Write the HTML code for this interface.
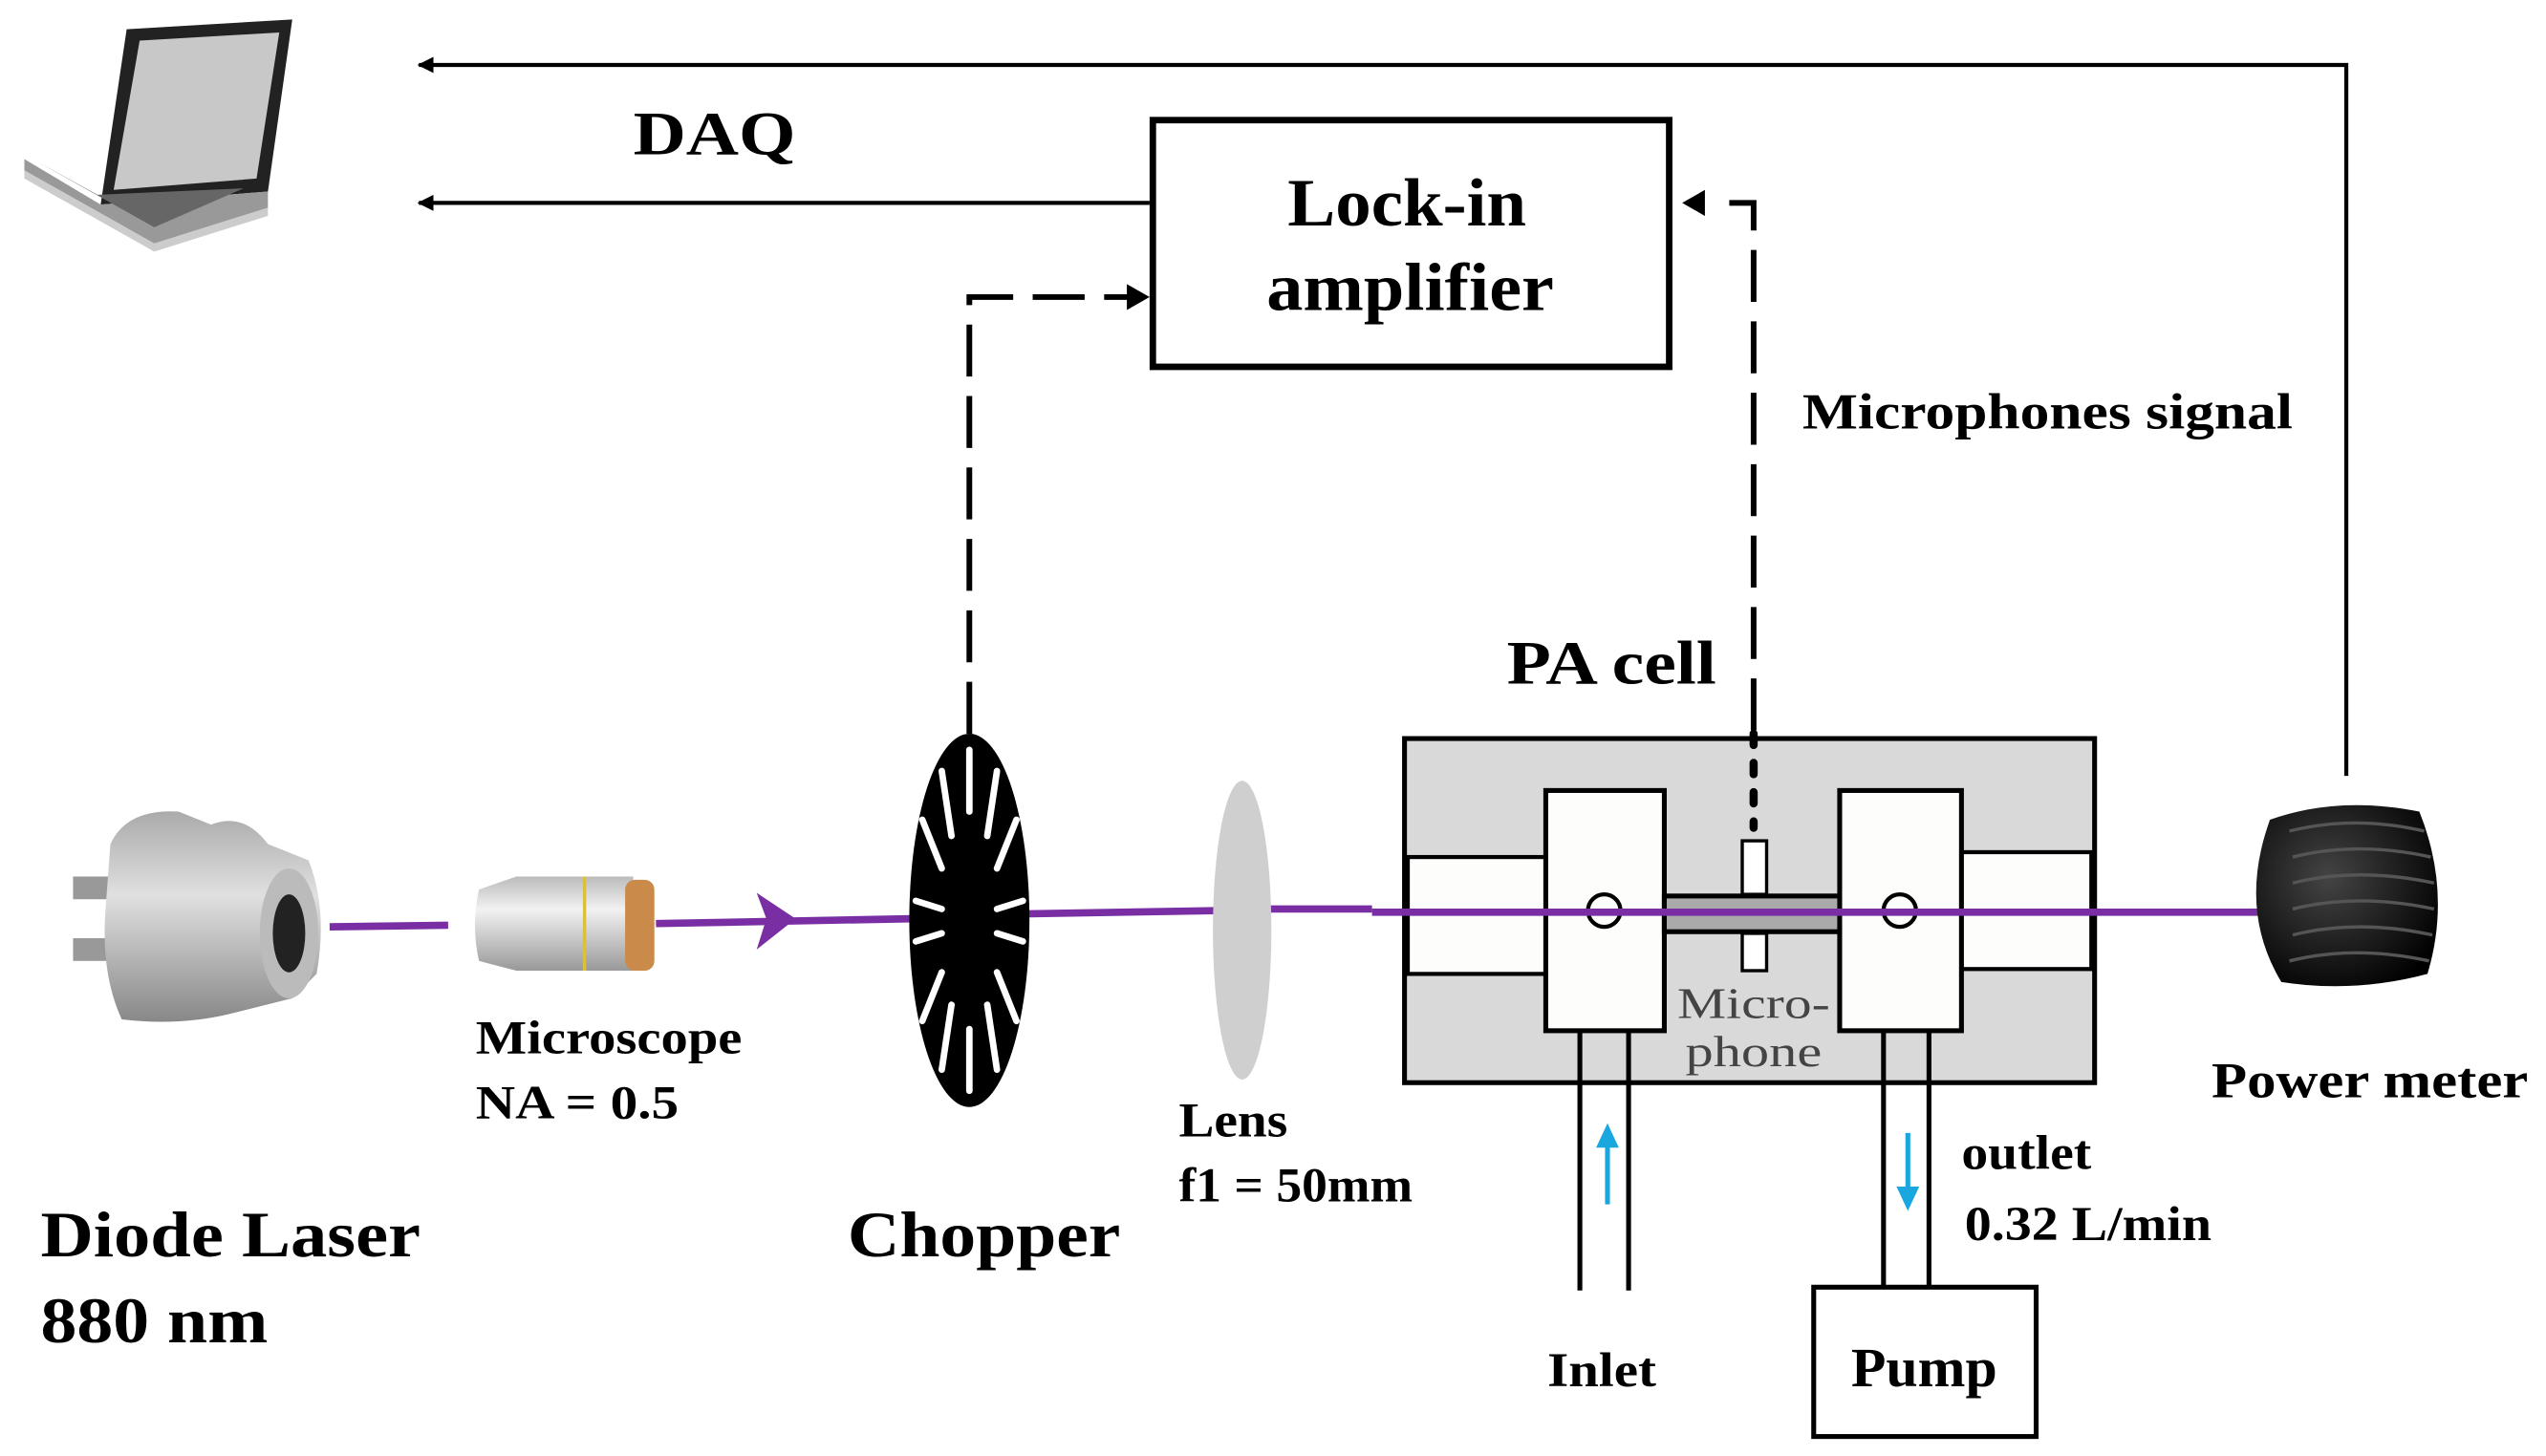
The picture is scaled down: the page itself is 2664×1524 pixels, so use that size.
<!DOCTYPE html>
<html><head><meta charset="utf-8"><style>
html,body{margin:0;padding:0;background:#fff;width:2664px;height:1524px;overflow:hidden}
svg{display:block}
text{font-family:"Liberation Serif",serif;font-weight:bold;fill:#000}
</style></head><body>
<svg width="2664" height="1524" viewBox="0 0 1568 897" preserveAspectRatio="none" xmlns="http://www.w3.org/2000/svg">
<defs>
<marker id="ah" markerWidth="10" markerHeight="10" refX="9" refY="5" orient="auto" markerUnits="userSpaceOnUse"><path d="M0,0 L10,5 L0,10 z" fill="#000"/></marker>
<linearGradient id="metal" x1="0" y1="0" x2="0" y2="1"><stop offset="0" stop-color="#aaa"/><stop offset=".4" stop-color="#e0e0e0"/><stop offset="1" stop-color="#888"/></linearGradient>
<linearGradient id="obj" x1="0" y1="0" x2="0" y2="1"><stop offset="0" stop-color="#bbb"/><stop offset=".35" stop-color="#f2f2f2"/><stop offset="1" stop-color="#999"/></linearGradient>
<radialGradient id="pm" cx=".4" cy=".4" r=".7"><stop offset="0" stop-color="#444"/><stop offset="1" stop-color="#000"/></radialGradient>
</defs>

<!-- laptop -->
<polygon points="78,18 180,12 165,118 62,126" fill="#222"/>
<polygon points="86,25 172,20 158,110 70,117" fill="#c8c8c8"/>
<polygon points="15,98 62,126 165,118 165,128 95,150 15,105" fill="#999"/>
<polygon points="22,99 60,120 150,116 95,140" fill="#666"/>
<polygon points="15,105 95,150 165,128 165,133 95,155 15,110" fill="#ccc"/>

<!-- top feedback lines -->
<polyline points="1445,478 1445,40 258,40" fill="none" stroke="#000" stroke-width="2.5" marker-end="url(#ah)"/>
<line x1="708" y1="125" x2="258" y2="125" stroke="#000" stroke-width="2.5" marker-end="url(#ah)"/>
<text x="390" y="95" font-size="38" textLength="100" lengthAdjust="spacingAndGlyphs">DAQ</text>

<!-- lock-in -->
<rect x="710" y="74" width="318" height="152" fill="#fff" stroke="#000" stroke-width="4"/>
<text x="793" y="139" font-size="42" textLength="147" lengthAdjust="spacingAndGlyphs">Lock-in</text>
<text x="780" y="191" font-size="42" textLength="177" lengthAdjust="spacingAndGlyphs">amplifier</text>

<!-- dashed from chopper -->
<polyline points="597,452 597,183 696,183" fill="none" stroke="#000" stroke-width="3.5" stroke-dasharray="32,12"/>
<path d="M694,175 L708,183 L694,191 z" fill="#000"/>
<!-- dashed from microphone -->
<polyline points="1080,450 1080,125 1058,125" fill="none" stroke="#000" stroke-width="3.5" stroke-dasharray="32,12"/>
<path d="M1050,117 L1036,125 L1050,133 z" fill="#000"/>
<text x="1110" y="264" font-size="31" textLength="302" lengthAdjust="spacingAndGlyphs">Microphones signal</text>

<!-- PA cell -->
<text x="928" y="421" font-size="38" textLength="129" lengthAdjust="spacingAndGlyphs">PA cell</text>
<rect x="865" y="455" width="425" height="212" fill="#d9d9d9" stroke="#000" stroke-width="3"/>
<rect x="867" y="528" width="85" height="72" fill="#fdfdfb" stroke="#000" stroke-width="2.5"/>
<rect x="1208" y="525" width="80" height="72" fill="#fdfdfb" stroke="#000" stroke-width="2.5"/>
<rect x="952" y="487" width="73" height="148" fill="#fdfdfb" stroke="#000" stroke-width="3"/>
<rect x="1133" y="487" width="75" height="148" fill="#fdfdfb" stroke="#000" stroke-width="3"/>
<rect x="1025" y="552" width="108" height="22" fill="#aaa" stroke="#000" stroke-width="3"/>
<rect x="1073" y="518" width="15" height="33" fill="#fff" stroke="#000" stroke-width="2"/>
<rect x="1073" y="575" width="15" height="23" fill="#fff" stroke="#000" stroke-width="2"/>
<line x1="1080" y1="452" x2="1080" y2="510" stroke="#000" stroke-width="5" stroke-dasharray="7,11" stroke-linecap="round"/>
<circle cx="988" cy="561" r="10" fill="none" stroke="#000" stroke-width="2.5"/>
<circle cx="1170" cy="561" r="10" fill="none" stroke="#000" stroke-width="2.5"/>
<text x="1033" y="627" font-size="27" font-weight="normal" style="font-weight:normal;fill:#444" textLength="94" lengthAdjust="spacingAndGlyphs">Micro-</text>
<text x="1038" y="657" font-size="27" style="font-weight:normal;fill:#444" textLength="84" lengthAdjust="spacingAndGlyphs">phone</text>

<!-- pipes -->
<line x1="973" y1="635" x2="973" y2="795" stroke="#000" stroke-width="3"/>
<line x1="1003" y1="635" x2="1003" y2="795" stroke="#000" stroke-width="3"/>
<line x1="1160" y1="635" x2="1160" y2="793" stroke="#000" stroke-width="3"/>
<line x1="1188" y1="635" x2="1188" y2="793" stroke="#000" stroke-width="3"/>
<line x1="990" y1="742" x2="990" y2="705" stroke="#1aa7e0" stroke-width="3"/>
<path d="M983,707 L990,692 L997,707 z" fill="#1aa7e0"/>
<line x1="1175" y1="698" x2="1175" y2="733" stroke="#1aa7e0" stroke-width="3"/>
<path d="M1168,731 L1175,746 L1182,731 z" fill="#1aa7e0"/>
<rect x="1117" y="793" width="137" height="92" fill="#fff" stroke="#000" stroke-width="3"/>
<text x="1140" y="854" font-size="34" textLength="90" lengthAdjust="spacingAndGlyphs">Pump</text>
<text x="953" y="854" font-size="30" textLength="67" lengthAdjust="spacingAndGlyphs">Inlet</text>
<text x="1208" y="720" font-size="30" textLength="80" lengthAdjust="spacingAndGlyphs">outlet</text>
<text x="1210" y="764" font-size="30" textLength="152" lengthAdjust="spacingAndGlyphs">0.32 L/min</text>

<!-- beam -->
<g stroke="#7a2ea3" stroke-width="4.5" fill="none">
<line x1="203" y1="571" x2="276" y2="570"/>
<line x1="404" y1="569" x2="562" y2="566"/>
<line x1="630" y1="563" x2="748" y2="561"/>
<line x1="782" y1="560" x2="845" y2="560"/>
<line x1="845" y1="562" x2="1410" y2="562"/>
</g>
<path d="M466,550 L490,566 L466,585 L472,566 z" fill="#7a2ea3"/>

<!-- diode laser -->
<rect x="45" y="540" width="40" height="14" fill="#999"/>
<rect x="45" y="578" width="40" height="14" fill="#999"/>
<path d="M68,520 Q78,498 110,500 L130,508 Q150,500 165,520 L190,530 Q202,560 195,600 L180,615 L140,625 Q110,632 75,628 Q62,600 65,560 z" fill="url(#metal)"/>
<ellipse cx="178" cy="575" rx="18" ry="40" fill="#bbb"/>
<ellipse cx="178" cy="575" rx="10" ry="24" fill="#222"/>

<!-- microscope objective -->
<path d="M295,548 Q290,570 295,592 L318,598 L390,598 L390,540 L318,540 z" fill="url(#obj)"/>
<rect x="385" y="542" width="18" height="56" rx="6" fill="#c98a4a"/>
<line x1="360" y1="540" x2="360" y2="598" stroke="#d8c040" stroke-width="2"/>

<!-- chopper -->
<ellipse cx="597" cy="567" rx="37" ry="115" fill="#000"/>
<g stroke="#fff" stroke-width="4" stroke-linecap="round">
<line x1="597" y1="462" x2="597" y2="500"/><line x1="597" y1="634" x2="597" y2="672"/>
<line x1="580" y1="475" x2="586" y2="515"/><line x1="614" y1="475" x2="608" y2="515"/>
<line x1="580" y1="659" x2="586" y2="619"/><line x1="614" y1="659" x2="608" y2="619"/>
<line x1="568" y1="505" x2="580" y2="535"/><line x1="626" y1="505" x2="614" y2="535"/>
<line x1="568" y1="629" x2="580" y2="599"/><line x1="626" y1="629" x2="614" y2="599"/>
<line x1="564" y1="555" x2="580" y2="560"/><line x1="630" y1="555" x2="614" y2="560"/>
<line x1="564" y1="580" x2="580" y2="575"/><line x1="630" y1="580" x2="614" y2="575"/>
</g>

<!-- lens -->
<ellipse cx="765" cy="573" rx="18" ry="92" fill="#cfcfcf"/>

<!-- power meter -->
<path d="M1398,505 Q1440,490 1490,500 Q1510,550 1495,600 Q1450,612 1405,605 Q1378,560 1398,505 z" fill="url(#pm)"/>
<g stroke="#555" stroke-width="2" fill="none">
<path d="M1410,512 Q1450,502 1493,512"/><path d="M1412,528 Q1452,518 1497,528"/><path d="M1412,544 Q1452,534 1499,544"/><path d="M1412,560 Q1452,550 1499,560"/><path d="M1412,576 Q1452,566 1498,576"/><path d="M1410,592 Q1450,582 1496,592"/>
</g>

<!-- labels -->
<text x="293" y="649" font-size="29" textLength="164" lengthAdjust="spacingAndGlyphs">Microscope</text>
<text x="293" y="689" font-size="29" textLength="125" lengthAdjust="spacingAndGlyphs">NA = 0.5</text>
<text x="25" y="774" font-size="40" textLength="234" lengthAdjust="spacingAndGlyphs">Diode Laser</text>
<text x="25" y="827" font-size="40" textLength="140" lengthAdjust="spacingAndGlyphs">880 nm</text>
<text x="522" y="774" font-size="40" textLength="168" lengthAdjust="spacingAndGlyphs">Chopper</text>
<text x="726" y="700" font-size="30" textLength="67" lengthAdjust="spacingAndGlyphs">Lens</text>
<text x="726" y="740" font-size="30" textLength="144" lengthAdjust="spacingAndGlyphs">f1 = 50mm</text>
<text x="1362" y="676" font-size="31" textLength="195" lengthAdjust="spacingAndGlyphs">Power meter</text>
</svg>
</body></html>
